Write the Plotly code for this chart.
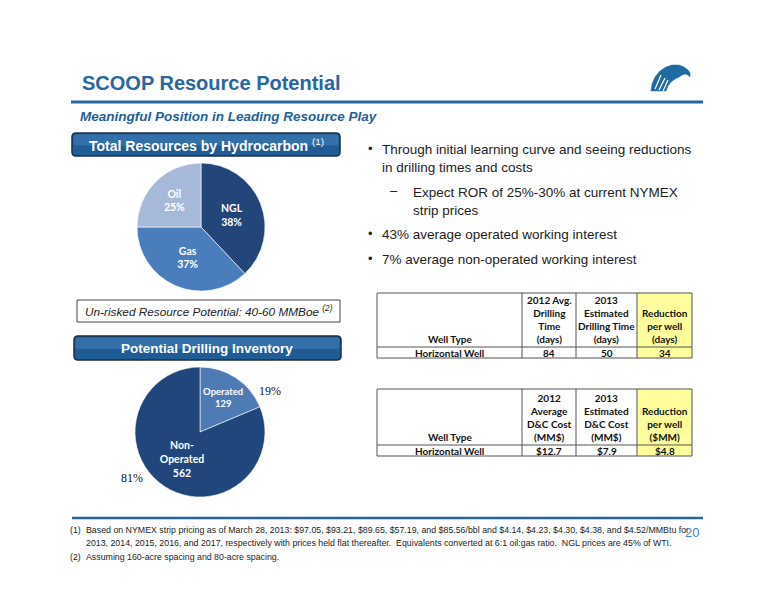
import plotly.graph_objects as go

W, H = 776, 600
OFF = 8  # page body margin offset


def px(x):
    return (x - OFF) / W


def py(y):
    return 1 - (y - OFF) / H


# ---------------- data ----------------
title_text = "SCOOP Resource Potential"
subtitle_text = "Meaningful Position in Leading Resource Play"

hydro_labels = ["NGL", "Gas", "Oil"]
hydro_values = [38, 37, 25]
hydro_colors = ["#23467a", "#4a7dbc", "#a7b9d9"]

inv_labels = ["Operated", "Non-Operated"]
inv_display = ["Operated", "Non-<br>Operated"]
inv_values = [129, 562]
inv_colors = ["#4f7bb4", "#21467b"]

resource_note = "Un-risked Resource Potential: 40-60 MMBoe <sup>(2)</sup>"

bullet_lines = [
    ("•", "Through initial learning curve and seeing reductions<br>in drilling times and costs"),
    ("–", "Expect ROR of 25%-30% at current NYMEX<br>strip prices"),
    ("•", "43% average operated working interest"),
    ("•", "7% average non-operated working interest"),
]

drill_headers = [
    ["Well Type"],
    ["2012 Avg.", "Drilling", "Time", "(days)"],
    ["2013", "Estimated", "Drilling Time", "(days)"],
    ["Reduction", "per well", "(days)"],
]
drill_row = ["Horizontal Well", "84", "50", "34"]

cost_headers = [
    ["Well Type"],
    ["2012", "Average", "D&C Cost", "(MM$)"],
    ["2013", "Estimated", "D&C Cost", "(MM$)"],
    ["Reduction", "per well", "($MM)"],
]
cost_row = ["Horizontal Well", "$12.7", "$7.9", "$4.8"]

footnotes = [
    ("(1)", "Based on NYMEX strip pricing as of March 28, 2013: $97.05, $93.21, $89.65, $57.19, and $85.56/bbl and $4.14, $4.23, $4.30, $4.38, and $4.52/MMBtu for"),
    ("", "2013, 2014, 2015, 2016, and 2017, respectively with prices held flat thereafter.  Equivalents converted at 6:1 oil:gas ratio.  NGL prices are 45% of WTI."),
    ("(2)", "Assuming 160-acre spacing and 80-acre spacing."),
]
page_number = "20"

# ---------------- styling ----------------
BLUE = "#2866a1"
TEXT = "#222222"
TBL_FONT = "Lato"
ARIAL = "Liberation Sans, Arial"

fig = go.Figure()
shapes = []
ann = []


def note(x, y, text, font, xa="center", ya="middle", align="center"):
    ann.append(dict(x=px(x), y=py(y), xref="paper", yref="paper", xanchor=xa, yanchor=ya, align=align,
                    text=text, showarrow=False, font=font))


# ---- pies ----
fig.add_trace(go.Pie(
    labels=hydro_labels, values=hydro_values, sort=False, direction="clockwise", rotation=0,
    marker=dict(colors=hydro_colors, line=dict(color="white", width=0.6)),
    texttemplate="%{label}<br>%{value}%", textposition="inside", insidetextorientation="horizontal",
    textfont=dict(family=TBL_FONT, size=10.5, color="white", weight="bold"),
    domain=dict(x=[px(137), px(265)], y=[py(291), py(163)]),
    hoverinfo="label+value", showlegend=False,
))

fig.add_trace(go.Pie(
    labels=inv_labels, values=inv_values, sort=False, direction="clockwise", rotation=0,
    marker=dict(colors=inv_colors, line=dict(color="white", width=0.6)),
    text=[f"{d}<br>{v}" for d, v in zip(inv_display, inv_values)],
    textinfo="text", textposition="inside", insidetextorientation="horizontal",
    textfont=dict(family=TBL_FONT, size=10.5, color="white", weight="bold"),
    domain=dict(x=[px(135), px(265)], y=[py(497), py(367)]),
    hoverinfo="label+value", showlegend=False,
))

# outside percentage labels for inventory pie
inv_total = sum(inv_values)
inv_pct = [f"{round(100 * v / inv_total)}%" for v in inv_values]
serif = dict(family="Liberation Serif, Times New Roman", size=12, color="#111")
note(270, 391, inv_pct[0], serif)
note(132, 478, inv_pct[1], serif)

# ---- title ----
note(80, 83, f"<b>{title_text}</b>", dict(family=ARIAL, size=20, color=BLUE), xa="left")
shapes.append(dict(type="line", xref="paper", yref="paper", x0=px(71), x1=px(703), y0=py(102), y1=py(102),
                   line=dict(color=BLUE, width=3)))
note(78, 117, f"<b><i>{subtitle_text}</i></b>", dict(family=ARIAL, size=13.5, color="#1f5f96"), xa="left")


# ---- eagle logo (decorative) ----
def pth(points, close=True):
    s = "M " + " L ".join(f"{px(x):.5f},{py(y):.5f}" for x, y in points)
    return s + (" Z" if close else "")


eagle = [(651, 91), (652, 84), (655, 77), (660, 71), (666, 67), (672, 65), (679, 65), (684, 67),
         (688, 70), (690, 73), (690, 77), (688, 75), (685, 74), (682, 75), (679, 77), (675, 79),
         (671, 82), (668, 86), (666, 91)]
shapes.append(dict(type="path", xref="paper", yref="paper", path=pth(eagle), fillcolor="#1f6aa3",
                   line=dict(color="#1f6aa3", width=0.5)))
for (x0, y0, x1, y1) in [(655, 89, 661, 75), (659, 90, 665, 78), (663, 91, 668, 80)]:
    shapes.append(dict(type="line", xref="paper", yref="paper", x0=px(x0), y0=py(y0), x1=px(x1), y1=py(y1),
                       line=dict(color="white", width=1.2)))


# ---- header boxes ----
def rounded(x0, y0, x1, y1, r):
    return (f"M {px(x0 + r)},{py(y0)} L {px(x1 - r)},{py(y0)} Q {px(x1)},{py(y0)} {px(x1)},{py(y0 + r)} "
            f"L {px(x1)},{py(y1 - r)} Q {px(x1)},{py(y1)} {px(x1 - r)},{py(y1)} "
            f"L {px(x0 + r)},{py(y1)} Q {px(x0)},{py(y1)} {px(x0)},{py(y1 - r)} "
            f"L {px(x0)},{py(y0 + r)} Q {px(x0)},{py(y0)} {px(x0 + r)},{py(y0)} Z")


def header_box(x0, y0, x1, y1, label, size):
    shapes.append(dict(type="path", xref="paper", yref="paper", path=rounded(x0, y0, x1, y1, 4),
                       fillcolor="#1f5c96", line=dict(color="#1b2e45", width=1.5)))
    shapes.append(dict(type="path", xref="paper", yref="paper",
                       path=rounded(x0 + 1.5, y0 + 1.5, x1 - 1.5, (y0 + y1) / 2 + 1, 3),
                       fillcolor="rgba(90,150,210,0.35)", line=dict(width=0)))
    note((x0 + x1) / 2, (y0 + y1) / 2 + 0.5, label, dict(family=ARIAL, size=size, color="white"))


header_box(72, 133, 340, 156, "<b>Total Resources by Hydrocarbon</b> <sup>(1)</sup>", 14)
header_box(74, 336, 341, 360, "<b>Potential Drilling Inventory</b>", 13.5)

# resource note box
shapes.append(dict(type="rect", xref="paper", yref="paper", x0=px(77), x1=px(340), y0=py(300), y1=py(322),
                   fillcolor="white", line=dict(color="#444", width=1)))
note(208.5, 311, f"<i>{resource_note}</i>", dict(family=ARIAL, size=11.8, color=TEXT))

# ---- bullets ----
bullet_pos = [(370, 380, 148), (394, 411, 191), (370, 380, 233), (370, 380, 258)]
for (sym, txt), (bx, tx, ty) in zip(bullet_lines, bullet_pos):
    note(bx, ty, sym, dict(family=ARIAL, size=13, color=TEXT))
    note(tx, ty - 8, txt, dict(family=ARIAL, size=13.5, color=TEXT), xa="left", ya="top", align="left")


# ---- tables ----
def draw_table(top, mid, bottom, headers, row):
    xe = [377, 522, 576, 637, 692]
    shapes.append(dict(type="rect", xref="paper", yref="paper", x0=px(xe[3]), x1=px(xe[4]),
                       y0=py(top), y1=py(bottom), fillcolor="#fefe9c", line=dict(width=0)))
    shapes.append(dict(type="rect", xref="paper", yref="paper", x0=px(xe[0]), x1=px(xe[4]),
                       y0=py(top), y1=py(bottom), line=dict(color="#555", width=1)))
    for x in xe[1:4]:
        shapes.append(dict(type="line", xref="paper", yref="paper", x0=px(x), x1=px(x), y0=py(top),
                           y1=py(bottom), line=dict(color="#555", width=1)))
    shapes.append(dict(type="line", xref="paper", yref="paper", x0=px(xe[0]), x1=px(xe[4]), y0=py(mid),
                       y1=py(mid), line=dict(color="#555", width=1)))
    f = dict(family=TBL_FONT, size=10, color="#111", weight="bold")
    for i in range(4):
        cx = (xe[i] + xe[i + 1]) / 2
        note(cx, mid - 0.5, "<br>".join(headers[i]), f, ya="bottom")
        note(cx, (mid + bottom) / 2 + 0.5, row[i], f)


draw_table(293, 347, 358, drill_headers, drill_row)
draw_table(389, 445, 456, cost_headers, cost_row)

# ---- footer ----
shapes.append(dict(type="line", xref="paper", yref="paper", x0=px(72), x1=px(703), y0=py(518), y1=py(518),
                   line=dict(color=BLUE, width=2.5)))
ffont = dict(family="Liberation Sans, Arial", size=8.8, color=TEXT)
foot_y = [530, 543, 557]
for (num, txt), y in zip(footnotes, foot_y):
    if num:
        note(68, y, num, ffont, xa="left")
    note(84, y, txt, ffont, xa="left")
note(692, 532, page_number, dict(family=ARIAL, size=13, color="#4a86c4"))

fig.update_layout(
    width=W, height=H, margin=dict(l=0, r=0, t=0, b=0),
    paper_bgcolor="white", plot_bgcolor="white",
    shapes=shapes, annotations=ann,
    xaxis=dict(visible=False), yaxis=dict(visible=False),
)
fig.write_html("out.html")
